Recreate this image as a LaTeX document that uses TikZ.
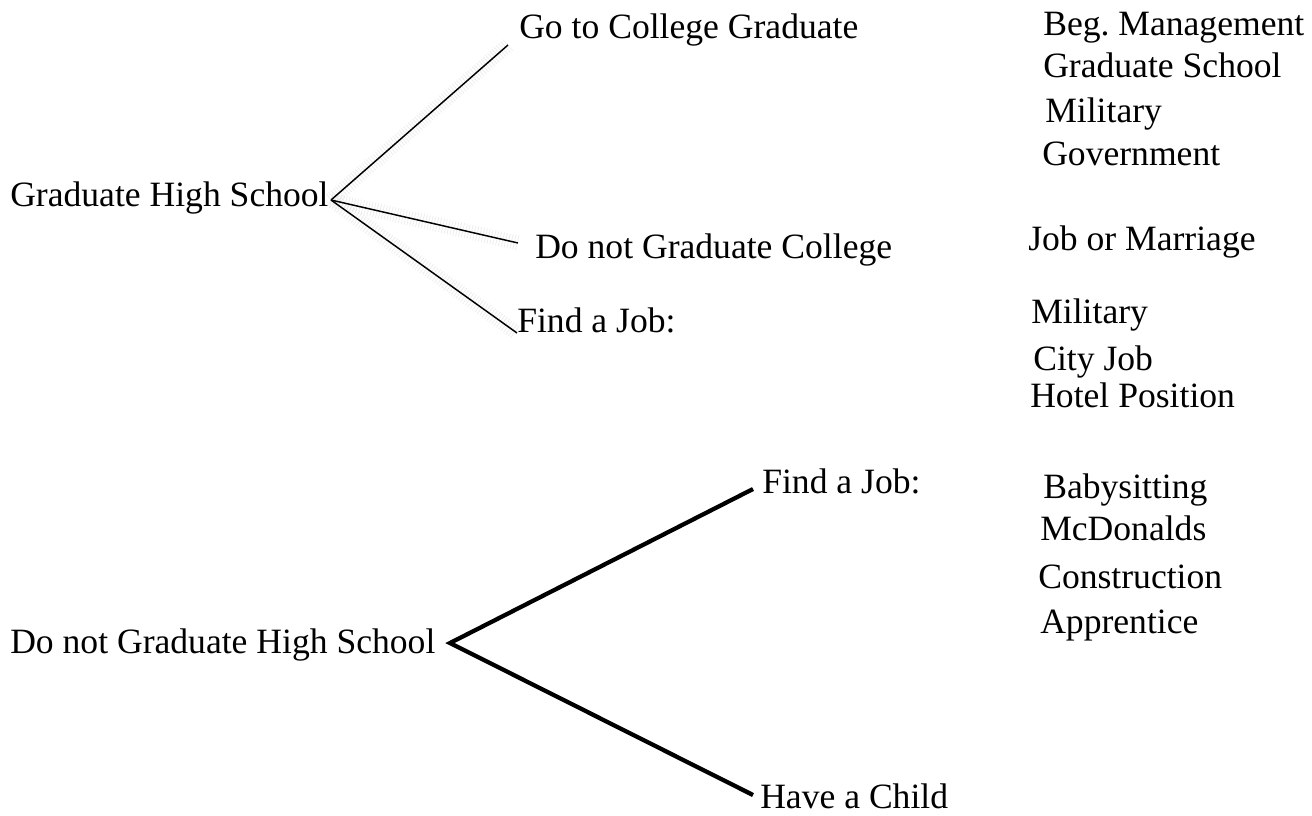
\documentclass[tikz,border=0pt]{standalone}
\usepackage{fontspec}
\setmainfont{Liberation Serif}
\frenchspacing
\begin{document}
\begin{tikzpicture}[x=0.75pt,y=-0.75pt,
  lbl/.style={anchor=base west,inner sep=0pt,font=\fontsize{26.7}{32}\selectfont},
  thinbranch/.style={line width=1.1pt,black},
  haze/.style={line width=11pt,gray!30,opacity=0.45,dash pattern=on 0.6pt off 1.6pt},
  thickbranch/.style={line width=3.2pt,black}]
\useasboundingbox (0,0) rectangle (1312,815);
\fill[white] (0,0) rectangle (1312,815);

% upper tree
\node[lbl] (ghs)  at (10,206)  {Graduate High School};
\node[lbl] (gcg)  at (519,38)  {Go to College Graduate};
\node[lbl] (dngc) at (535,258) {Do not Graduate College};
\node[lbl] (faj1) at (517,332) {Find a Job:};

\node[lbl] (bm)   at (1043,35)  {Beg. Management};
\node[lbl] (gs)   at (1043,77)  {Graduate School};
\node[lbl] (mil1) at (1045,122) {Military};
\node[lbl] (gov)  at (1042,165) {Government};
\node[lbl] (jom)  at (1028,250) {Job or Marriage};
\node[lbl] (mil2) at (1031,323) {Military};
\node[lbl] (cj)   at (1033,370) {City Job};
\node[lbl] (hp)   at (1030,407) {Hotel Position};

\coordinate (upRoot) at (331,200);
\coordinate (upA) at (508,45);
\coordinate (upB) at (518,243);
\coordinate (upC) at (517,333);

% speckled shading along the upper branches
\draw[haze] (upRoot) -- (upA);
\draw[haze] (upRoot) -- (upC);
\draw[haze] (upRoot) -- (upB);
\draw[thinbranch] (upRoot) -- (upA);
\draw[thinbranch] (upRoot) -- (upB);
\draw[thinbranch] (upRoot) -- (upC);

% lower tree
\node[lbl] (dnghs) at (10,653)  {Do not Graduate High School};
\node[lbl] (faj2)  at (762,493) {Find a Job:};
\node[lbl] (hac)   at (760,808) {Have a Child};

\node[lbl] (bs)  at (1043,498) {Babysitting};
\node[lbl] (mcd) at (1040,540) {McDonalds};
\node[lbl] (con) at (1038,588) {Construction};
\node[lbl] (app) at (1040,633) {Apprentice};

\coordinate (loRoot) at (450,643);
\coordinate (loA) at (753,489);
\coordinate (loB) at (753,795);

\draw[thickbranch] (loA) -- (loRoot) -- (loB);
\end{tikzpicture}
\end{document}
